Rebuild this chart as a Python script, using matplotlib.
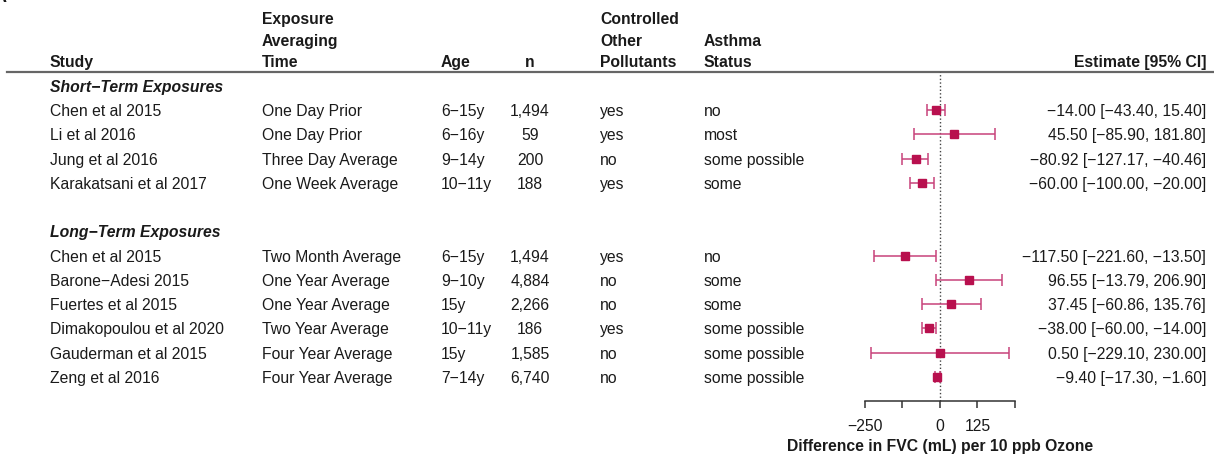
"""Forest plot: ozone exposure and FVC, short- and long-term studies"""
import matplotlib
matplotlib.use('Agg')
import matplotlib.pyplot as plt
import matplotlib.transforms as mtransforms

plt.rcParams['font.family'] = ['Liberation Sans', 'DejaVu Sans']
FS = 11.3
MINUS = '\u2212'

# ===== data =====
groups = ['Short\u2212Term Exposures', 'Long\u2212Term Exposures']
group_of = [0, 0, 0, 0, 1, 1, 1, 1, 1, 1]
studies = ['Chen et al 2015', 'Li et al 2016', 'Jung et al 2016', 'Karakatsani et al 2017',
           'Chen et al 2015', 'Barone\u2212Adesi 2015', 'Fuertes et al 2015',
           'Dimakopoulou et al 2020', 'Gauderman et al 2015', 'Zeng et al 2016']
averaging = ['One Day Prior', 'One Day Prior', 'Three Day Average', 'One Week Average',
             'Two Month Average', 'One Year Average', 'One Year Average',
             'Two Year Average', 'Four Year Average', 'Four Year Average']
ages = ['6\u221215y', '6\u221216y', '9\u221214y', '10\u221211y',
        '6\u221215y', '9\u221210y', '15y', '10\u221211y', '15y', '7\u221214y']
n_subj = ['1,494', '59', '200', '188', '1,494', '4,884', '2,266', '186', '1,585', '6,740']
controlled = ['yes', 'yes', 'no', 'yes', 'yes', 'no', 'no', 'yes', 'no', 'no']
asthma = ['no', 'most', 'some possible', 'some', 'no', 'some', 'some',
          'some possible', 'some possible', 'some possible']
estimate = [-14.00, 45.50, -80.92, -60.00, -117.50, 96.55, 37.45, -38.00, 0.50, -9.40]
ci_low = [-43.40, -85.90, -127.17, -100.00, -221.60, -13.79, -60.86, -60.00, -229.10, -17.30]
ci_high = [15.40, 181.80, -40.46, -20.00, -13.50, 206.90, 135.76, -14.00, 230.00, -1.60]

headers = [('Study', 50, 'left'),
           ('Exposure\nAveraging\nTime', 262, 'left'),
           ('Age', 441, 'left'),
           ('n', 530, 'center'),
           ('Controlled\nOther\nPollutants', 600, 'left'),
           ('Asthma\nStatus', 704, 'left'),
           ('Estimate [95% CI]', 1206, 'right')]

W, H = 1214, 457
PX_PER_UNIT = 0.3
ZERO_PX = 940
ROW_PX = 24.27
LAST_ROW_PX = 377

# ===== row layout: metafor style, bottom row = 1 =====
rows = []
r = 12
for i, g in enumerate(group_of):
    if i > 0 and g != group_of[i - 1]:
        r -= 2
    rows.append(r)
    r -= 1
group_rows = [rows[group_of.index(k)] + 1 for k in range(len(groups))]
header_row = 14.0
line_row = 13.57

fig = plt.figure(figsize=(W / 100, H / 100), dpi=100)
ax = fig.add_axes([0, 0, 1, 1])
ax.set_xlim((0 - ZERO_PX) / PX_PER_UNIT, (W - ZERO_PX) / PX_PER_UNIT)
ax.set_ylim(1 - (H - LAST_ROW_PX) / ROW_PX, 1 + LAST_ROW_PX / ROW_PX)
trans = mtransforms.blended_transform_factory(fig.transFigure, ax.transData)
txt = '#1a1a1a'


def fx(px):
    return px / W


def fmt(v):
    return f'{v:.2f}'.replace('-', MINUS)


# column headers
for label, px, ha in headers:
    lines = label.split('\n')
    for k, line in enumerate(reversed(lines)):
        ax.text(fx(px), header_row + 0.905 * k, line, transform=trans, ha=ha,
                va='center_baseline', fontsize=FS, fontweight='bold', color=txt)
ax.axhline(line_row, xmin=7 / W, xmax=1, color='#666666', lw=1.6)

# group labels
for g, gr in zip(groups, group_rows):
    ax.text(fx(50), gr, g, transform=trans, ha='left', va='center_baseline',
            fontsize=FS, fontweight='bold', fontstyle='italic', color=txt)

# table columns
for i, y in enumerate(rows):
    for val, px, ha in [(studies[i], 50, 'left'), (averaging[i], 262, 'left'),
                        (ages[i], 441, 'left'), (n_subj[i], 530, 'center'),
                        (controlled[i], 600, 'left'), (asthma[i], 704, 'left')]:
        ax.text(fx(px), y, val, transform=trans, ha=ha, va='center_baseline',
                fontsize=FS, color=txt)
    lab = f'{fmt(estimate[i])} [{fmt(ci_low[i])}, {fmt(ci_high[i])}]'
    ax.text(fx(1206), y, lab, transform=trans, ha='right', va='center_baseline',
            fontsize=FS, color=txt)

# reference line
ax.vlines(0, 0, line_row, colors='#444444', linestyles=(0, (1, 1.6)), lw=1.0)

# CI bars and squares
err_lo = [e - l for e, l in zip(estimate, ci_low)]
err_hi = [h - e for e, h in zip(estimate, ci_high)]
ax.errorbar(estimate, rows, xerr=[err_lo, err_hi], fmt='none', ecolor='#c8437a',
            elinewidth=1.1, capsize=4, capthick=1.1, zorder=3)
ax.plot(estimate, rows, 's', ms=5.8, color='#b8104e', mec='#b8104e', zorder=4)

# x axis
for side in ['top', 'left', 'right']:
    ax.spines[side].set_visible(False)
ax.spines['bottom'].set_position(('data', 0))
ax.spines['bottom'].set_bounds(-250, 250)
ax.spines['bottom'].set_color('#333333')
ax.spines['bottom'].set_linewidth(1.1)
ax.set_xticks([-250, -125, 0, 125, 250])
ax.set_xticklabels([MINUS + '250', '', '0', '125', ''])
ax.tick_params(axis='x', direction='out', length=5, width=1.1, color='#333333',
               pad=7.5, labelsize=FS, labelcolor=txt)
ax.set_yticks([])
ax.text(0, 1 - (445 - LAST_ROW_PX) / ROW_PX, 'Difference in FVC (mL) per 10 ppb Ozone',
        ha='center', va='center_baseline', fontsize=FS, fontweight='bold', color=txt)

# panel letter, mostly cut off at the top
fig.text(-6 / W, 1 - 2 / H, 'A', ha='left', va='baseline', fontsize=13,
         fontweight='bold', color=txt)

fig.savefig('out.png', dpi=100)
